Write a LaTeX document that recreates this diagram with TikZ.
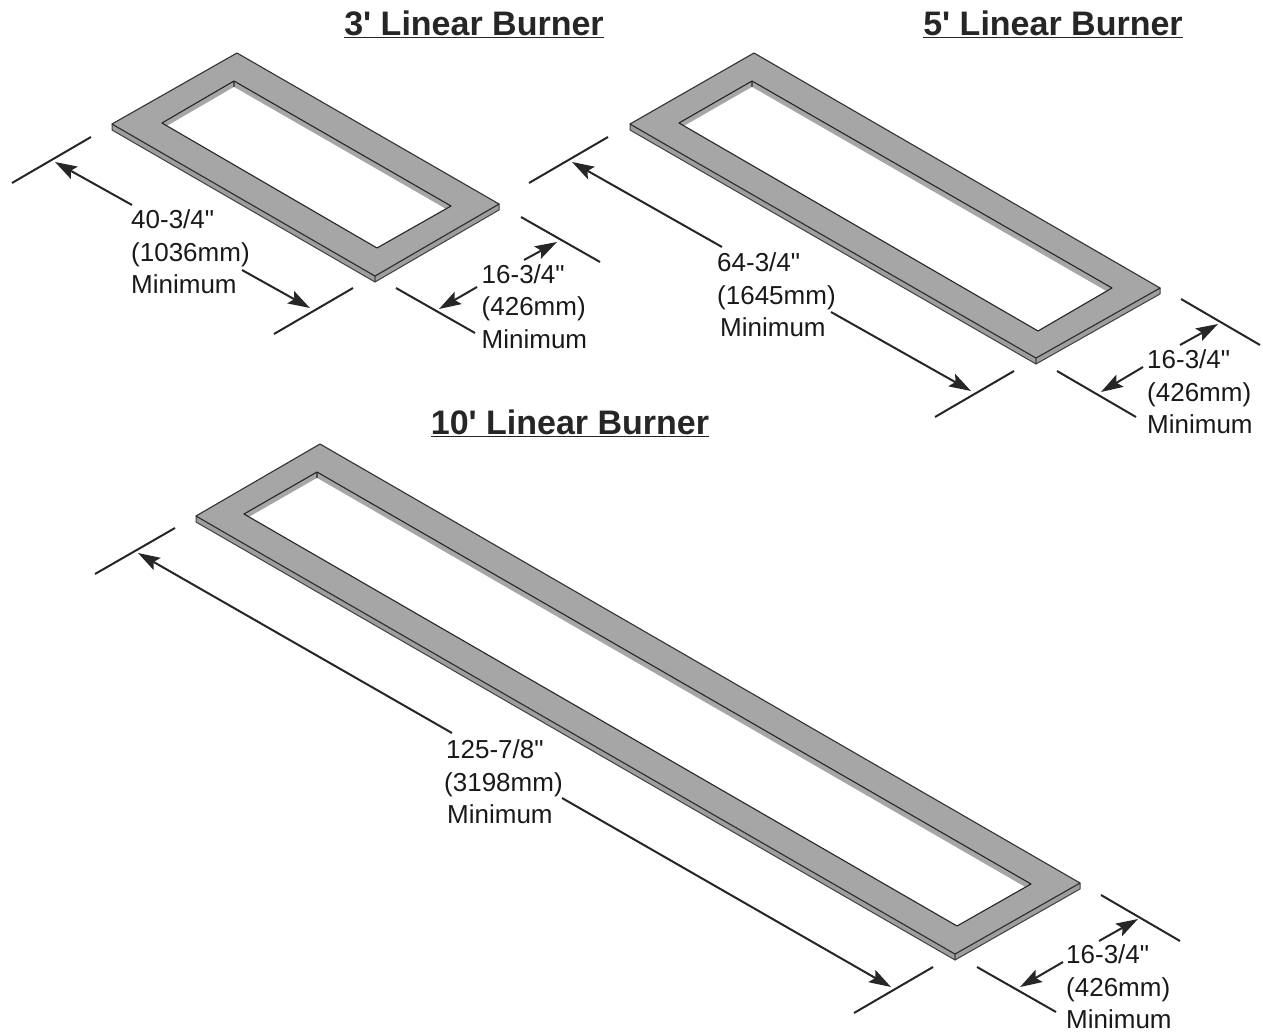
\documentclass[tikz,border=0pt]{standalone}
\usepackage{fontspec}
\usetikzlibrary{arrows.meta}
\newfontfamily\labelfont{Liberation Sans}
\tikzset{
    plate/.style={draw=black!80,line width=1.1pt,fill=black!35,line join=round},
    rim/.style={draw=black!75,line width=1pt,fill=black!38,line join=round},
    opening/.style={fill=white},
    ledge/.style={draw=black!85,line width=1.1pt,line join=round},
    dimline/.style={draw=black!85,line width=2pt},
    dimarrow/.style={draw=black!85,line width=2pt,-{Stealth[length=22pt,width=14pt,inset=4pt]}},
    dimlabel/.style={anchor=north west,inner sep=0pt,align=left,text=black!90,font=\labelfont\fontsize{26}{32.5}\selectfont},
    burnertitle/.style={inner sep=0pt,text=black!85,font=\labelfont\bfseries\fontsize{34}{40}\selectfont}
}
\begin{document}
\begin{tikzpicture}[x=1pt,y=-1pt]
    \useasboundingbox (0,0) rectangle (1263,1032);

    % 3 foot
    \node[burnertitle] (titleA) at (474,24) {\underline{3' Linear Burner}};
    \draw[rim] (112,124) -- (375,276) -- (375,282) -- (112,130) -- cycle;
    \draw[rim] (375,276) -- (499,204) -- (499,210) -- (375,282) -- cycle;
    \draw[plate] (237,53) -- (112,124) -- (375,276) -- (499,204) -- cycle;
    \fill[opening] (234,87) -- (167,126) -- (377,248) -- (446,209) -- cycle;
    \draw[ledge] (234,81) -- (162,123) -- (377,248) -- (451,206) -- cycle (234,81) -- (234,87);

    \draw[dimline] (91,137) -- (12,183);
    \draw[dimline] (353,288) -- (274,334);
    \draw[dimline] (396,288) -- (475,333);
    \draw[dimline] (521,217) -- (600,262);
    \node[dimlabel] (lenA) at (131,209.5) {40-3/4"\\(1036mm)\\Minimum};
    \node[dimlabel] (widA) at (481.5,264) {16-3/4"\\(426mm)\\Minimum};
    \coordinate (lenAup) at (132,205);
    \coordinate (lenAupTip) at (55,162);
    \coordinate (lenAdn) at (242,270);
    \coordinate (lenAdnTip) at (310,308);
    \coordinate (widAup) at (524,260);
    \coordinate (widAupTip) at (557,242);
    \coordinate (widAdn) at (477,287);
    \coordinate (widAdnTip) at (439,309);
    \draw[dimarrow] (lenAup) -- (lenAupTip);
    \draw[dimarrow] (lenAdn) -- (lenAdnTip);
    \draw[dimarrow] (widAup) -- (widAupTip);
    \draw[dimarrow] (widAdn) -- (widAdnTip);

    % 5 foot
    \node[burnertitle] (titleB) at (1053,24) {\underline{5' Linear Burner}};
    \draw[rim] (630,124) -- (1036,358) -- (1036,364) -- (630,130) -- cycle;
    \draw[rim] (1036,358) -- (1160,288) -- (1160,294) -- (1036,364) -- cycle;
    \draw[plate] (754,53) -- (630,124) -- (1036,358) -- (1160,288) -- cycle;
    \fill[opening] (752,87) -- (684,126) -- (1038,331) -- (1106,291) -- cycle;
    \draw[ledge] (752,81) -- (679,123) -- (1038,331) -- (1112,288) -- cycle (752,81) -- (752,87);

    \draw[dimline] (608,137) -- (529,183);
    \draw[dimline] (1014,371) -- (935,417);
    \draw[dimline] (1057,371) -- (1136,417);
    \draw[dimline] (1181,299) -- (1260,345);
    \node[dimlabel] (lenB) at (717,252.5) {64-3/4"\\(1645mm)\\\hspace*{3pt}Minimum};
    \node[dimlabel] (widB) at (1147,349.5) {16-3/4"\\(426mm)\\Minimum};
    \coordinate (lenBup) at (722,247);
    \coordinate (lenBupTip) at (572,162);
    \coordinate (lenBdn) at (831,312);
    \coordinate (lenBdnTip) at (971,391);
    \coordinate (widBup) at (1180,345);
    \coordinate (widBupTip) at (1218,324);
    \coordinate (widBdn) at (1143,367);
    \coordinate (widBdnTip) at (1101,392);
    \draw[dimarrow] (lenBup) -- (lenBupTip);
    \draw[dimarrow] (lenBdn) -- (lenBdnTip);
    \draw[dimarrow] (widBup) -- (widBupTip);
    \draw[dimarrow] (widBdn) -- (widBdnTip);

    % 10 foot
    \node[burnertitle] (titleC) at (570,423) {\underline{10' Linear Burner}};
    \draw[rim] (196,516) -- (955,954) -- (955,960) -- (196,522) -- cycle;
    \draw[rim] (955,954) -- (1080,883) -- (1080,889) -- (955,960) -- cycle;
    \draw[plate] (320,444) -- (196,516) -- (955,954) -- (1080,883) -- cycle;
    \fill[opening] (317,478) -- (249,517) -- (957,926) -- (1025,887) -- cycle;
    \draw[ledge] (317,472) -- (244,514) -- (957,926) -- (1031,884) -- cycle (317,472) -- (317,478);

    \draw[dimline] (175,528) -- (95,574);
    \draw[dimline] (933,967) -- (854,1013);
    \draw[dimline] (977,967) -- (1056,1012);
    \draw[dimline] (1101,895) -- (1180,941);
    \node[dimlabel] (lenC) at (444,739.5) {\hspace*{2pt}125-7/8"\\(3198mm)\\\hspace*{3pt}Minimum};
    \node[dimlabel] (widC) at (1066,944.5) {16-3/4"\\(426mm)\\Minimum};
    \coordinate (lenCup) at (452,733);
    \coordinate (lenCupTip) at (138,553);
    \coordinate (lenCdn) at (562,798);
    \coordinate (lenCdnTip) at (891,987);
    \coordinate (widCup) at (1099,941);
    \coordinate (widCupTip) at (1138,919);
    \coordinate (widCdn) at (1063,962);
    \coordinate (widCdnTip) at (1020,987);
    \draw[dimarrow] (lenCup) -- (lenCupTip);
    \draw[dimarrow] (lenCdn) -- (lenCdnTip);
    \draw[dimarrow] (widCup) -- (widCupTip);
    \draw[dimarrow] (widCdn) -- (widCdnTip);
\end{tikzpicture}
\end{document}
